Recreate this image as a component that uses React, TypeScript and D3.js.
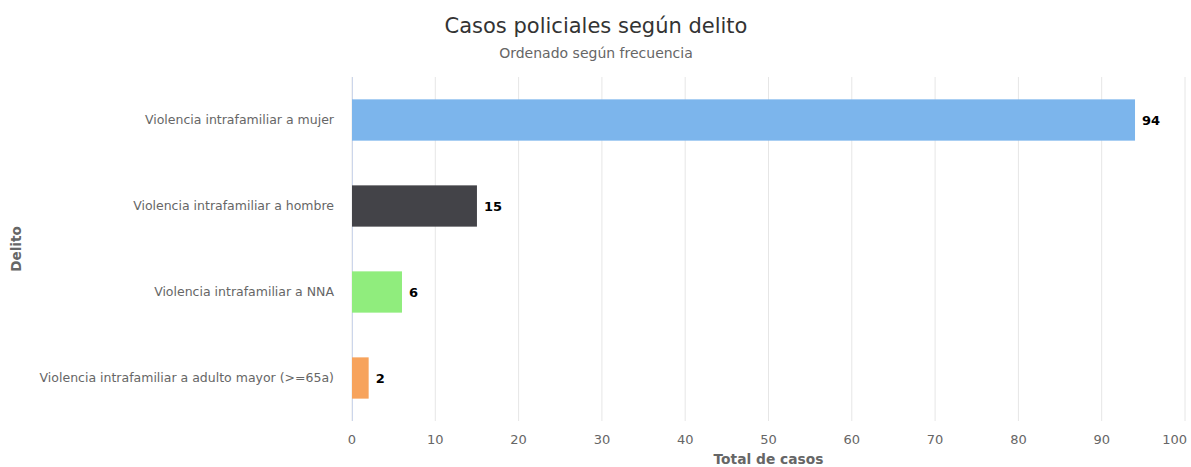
import React from "react";
import * as d3 from "d3";

const categories = [
  "Violencia intrafamiliar a mujer",
  "Violencia intrafamiliar a hombre",
  "Violencia intrafamiliar a NNA",
  "Violencia intrafamiliar a adulto mayor (>=65a)",
];
const values = [94, 15, 6, 2];
const colors = ["#7cb5ec", "#434348", "#90ed7d", "#f7a35c"];
const xTicks = [0, 10, 20, 30, 40, 50, 60, 70, 80, 90, 100];
const titleText = "Casos policiales según delito";
const subtitleText = "Ordenado según frecuencia";
const xTitle = "Total de casos";
const yTitle = "Delito";

const W = 1191;
const H = 467;
const FONT = "'DejaVu Sans', 'Lucida Grande', sans-serif";

export default function App() {
  const left = 352, right = 1185, top = 77, bottom = 421;
  const x = d3.scaleLinear().domain([0, 100]).range([left, right]);
  const y = d3.scaleBand().domain(categories).range([top, bottom]).paddingInner(0.52).paddingOuter(0.26);
  return (
    <svg width={W} height={H} style={{ position: "absolute", left: 0, top: 0, fontFamily: FONT }}>
      <rect width={W} height={H} fill="#fff" />
      <text x={596} y={33} textAnchor="middle" fontSize={21} fill="#333333">{titleText}</text>
      <text x={596} y={58} textAnchor="middle" fontSize={14} fill="#666666">{subtitleText}</text>
      {xTicks.map((t) => (
        <line key={t} x1={x(t)} x2={x(t)} y1={top} y2={bottom} stroke="#e6e6e6" strokeWidth={1} />
      ))}
      <line x1={left + 0.5} x2={left + 0.5} y1={top} y2={bottom} stroke="#ccd6eb" />
      {categories.map((c, i) => (
        <g key={c}>
          <rect x={x(0)} y={y(c)} width={x(values[i]) - x(0)} height={y.bandwidth()} fill={colors[i]} />
          <text x={x(values[i]) + 7} y={y(c)! + y.bandwidth() / 2} dy="0.35em" fontSize={13} fontWeight="bold" fill="#000">{values[i]}</text>
          <text x={left - 18} y={y(c)! + y.bandwidth() / 2} dy="0.35em" textAnchor="end" fontSize={12.5} fill="#666666">{c}</text>
        </g>
      ))}
      {xTicks.map((t, i) => {
        const last = i === xTicks.length - 1;
        return (
          <text key={"l" + t} x={last ? W - 4 : x(t)} y={444} textAnchor={last ? "end" : "middle"} fontSize={13} fill="#666666">{t}</text>
        );
      })}
      <text x={(left + right) / 2} y={464} textAnchor="middle" fontSize={13.8} fontWeight="bold" fill="#666666">{xTitle}</text>
      <text transform={`translate(21, ${(top + bottom) / 2}) rotate(-90)`} textAnchor="middle" fontSize={13.5} fontWeight="bold" fill="#666666">{yTitle}</text>
    </svg>
  );
}
